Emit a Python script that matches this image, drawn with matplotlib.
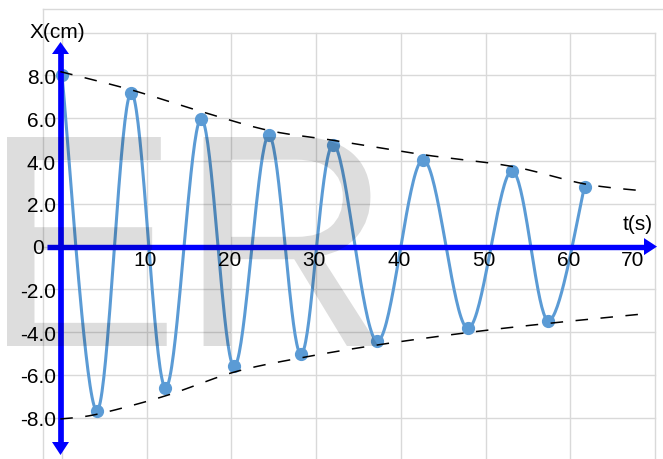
import numpy as np
import matplotlib
matplotlib.use("Agg")
import matplotlib.pyplot as plt
from matplotlib.patches import Polygon, PathPatch
from matplotlib.textpath import TextPath
from matplotlib.font_manager import FontProperties
from matplotlib.transforms import Affine2D

# ---------------- data ----------------
t_pts = [0, 4.1, 8.15, 12.2, 16.4, 20.3, 24.4, 28.2, 32.0, 37.2, 42.6, 47.9, 53.1, 57.4, 61.7]
x_pts = [8.0, -7.67, 7.19, -6.6, 5.98, -5.6, 5.2, -5.03, 4.77, -4.42, 4.06, -3.82, 3.54, -3.46, 2.8]

upper_t = [-0.2, 8.15, 16.4, 24.4, 32.0, 42.6, 53.1, 61.7, 68.8]
upper_x = [8.18, 7.33, 6.32, 5.43, 4.97, 4.30, 3.75, 2.93, 2.60]
lower_t = [-0.2, 4.1, 12.2, 20.3, 28.2, 37.2, 47.9, 57.4, 69.1]
lower_x = [-8.06, -7.84, -6.98, -5.87, -5.20, -4.60, -4.02, -3.59, -3.13]

x_ticks = [10, 20, 30, 40, 50, 60, 70]
y_ticks = [8, 6, 4, 2, -2, -4, -6, -8]
y_tick_labels = ["8.0", "6.0", "4.0", "2.0", "-2.0", "-4.0", "-6.0", "-8.0"]

# ---------------- layout ----------------
W, H = 663, 460
PX_T, T0_PX = 8.47, 62.0     # pixels per second, pixel column of t=0
PX_X, X0_PX = 21.39, 247.6   # pixels per cm, pixel row of X=0


def px2t(px):
    return (px - T0_PX) / PX_T


def py2x(py):
    return (X0_PX - py) / PX_X


def catmull_rom(xs, ys, n=40):
    P = np.column_stack([xs, ys]).astype(float)
    E = np.vstack([P[0], P, P[-1]])
    s = np.linspace(0, 1, n)[:, None]
    h00 = 2 * s**3 - 3 * s**2 + 1
    h10 = s**3 - 2 * s**2 + s
    h01 = -2 * s**3 + 3 * s**2
    h11 = s**3 - s**2
    out = []
    for i in range(len(P) - 1):
        p0, p1, p2, p3 = E[i], E[i + 1], E[i + 2], E[i + 3]
        m1 = (p2 - p0) / 2
        m2 = (p3 - p1) / 2
        seg = h00 * p1 + h10 * m1 + h01 * p2 + h11 * m2
        out.append(seg if i == 0 else seg[1:])
    return np.vstack(out)


FONT = "Liberation Sans"
fig = plt.figure(figsize=(W / 100, H / 100), dpi=100)
ax = fig.add_axes([0, 0, 1, 1])
ax.set_axis_off()
ax.set_xlim(px2t(0), px2t(W))
ax.set_ylim(py2x(H), py2x(0))

# grid
gc = "#d9d9d9"
glw = 1.0
for tv in range(0, 71, 10):
    ax.plot([tv, tv], [py2x(H + 5), 10], color=gc, lw=glw, zorder=1)
for xv in range(-8, 11, 2):
    ax.plot([px2t(43), 70], [xv, xv], color=gc, lw=glw, zorder=1)
ax.plot([px2t(43)] * 2, [py2x(H + 5), py2x(10)], color=gc, lw=glw, zorder=1)
ax.plot([px2t(43), px2t(W + 5)], [py2x(10)] * 2, color=gc, lw=glw, zorder=1)

# curve + markers
c = "#5b9bd5"
sp = catmull_rom(t_pts, x_pts)
ax.plot(sp[:, 0], sp[:, 1], color=c, lw=2.2, zorder=3, solid_capstyle="round")
ax.plot(t_pts, x_pts, "o", ms=8.5, color=c, mec=c, zorder=4)

# envelopes
for et, ex in ((upper_t, upper_x), (lower_t, lower_x)):
    e = catmull_rom(et, ex)
    ax.plot(e[:, 0], e[:, 1], color="black", lw=1.1, dashes=(8.2, 8.2), zorder=6)

# blue axes
blue = "#0000ff"
ax.plot([px2t(47), px2t(646)], [0, 0], color=blue, lw=3.9, zorder=5, solid_capstyle="butt")
ax.add_patch(Polygon([(px2t(657), 0), (px2t(644), py2x(X0_PX - 8.5)), (px2t(644), py2x(X0_PX + 8.5))],
                     closed=True, color=blue, zorder=5, lw=0))
yax = px2t(60.5)
ax.plot([yax, yax], [py2x(53), py2x(445)], color=blue, lw=4.1, zorder=5, solid_capstyle="butt")
ax.add_patch(Polygon([(yax, py2x(43)), (px2t(52), py2x(55)), (px2t(69), py2x(55))],
                     closed=True, color=blue, zorder=5, lw=0))
ax.add_patch(Polygon([(yax, py2x(456)), (px2t(52), py2x(443)), (px2t(69), py2x(443))],
                     closed=True, color=blue, zorder=5, lw=0))

# tick labels
fs = 15
for v, lab in zip(y_ticks, y_tick_labels):
    ax.text(px2t(56), v - 2 / PX_X, lab, ha="right", va="center", fontsize=fs, family=FONT, zorder=7)
ax.text(px2t(44), py2x(249), "0", ha="right", va="center", fontsize=fs, family=FONT, zorder=7)
for v in x_ticks:
    if v == 70:
        ax.text(v - 1.2, py2x(261), str(v), ha="right", va="center", fontsize=fs, family=FONT, zorder=7)
    else:
        ax.text(v - 0.2, py2x(261), str(v), ha="center", va="center", fontsize=fs, family=FONT, zorder=7)
ax.text(px2t(30), py2x(32), "X(cm)", ha="left", va="center", fontsize=fs, family=FONT, zorder=7)
ax.text(px2t(638), py2x(225), "t(s)", ha="center", va="center", fontsize=fs, family=FONT, zorder=7)

# watermark "ER" (semi-transparent, over everything)
tp = TextPath((0, 0), "ER", size=100, prop=FontProperties(family=FONT))
ext = tp.get_extents()
sy = 209.0 / ext.y1        # cap height in pixels
sx = sy * 0.97
tr = Affine2D().scale(sx, sy).translate(7 - ext.x0 * sx, H - 347)
wm = PathPatch(tp, transform=tr, facecolor="black", edgecolor="none", alpha=0.135, zorder=10)
fig.add_artist(wm)

fig.savefig("out.png", dpi=100)
